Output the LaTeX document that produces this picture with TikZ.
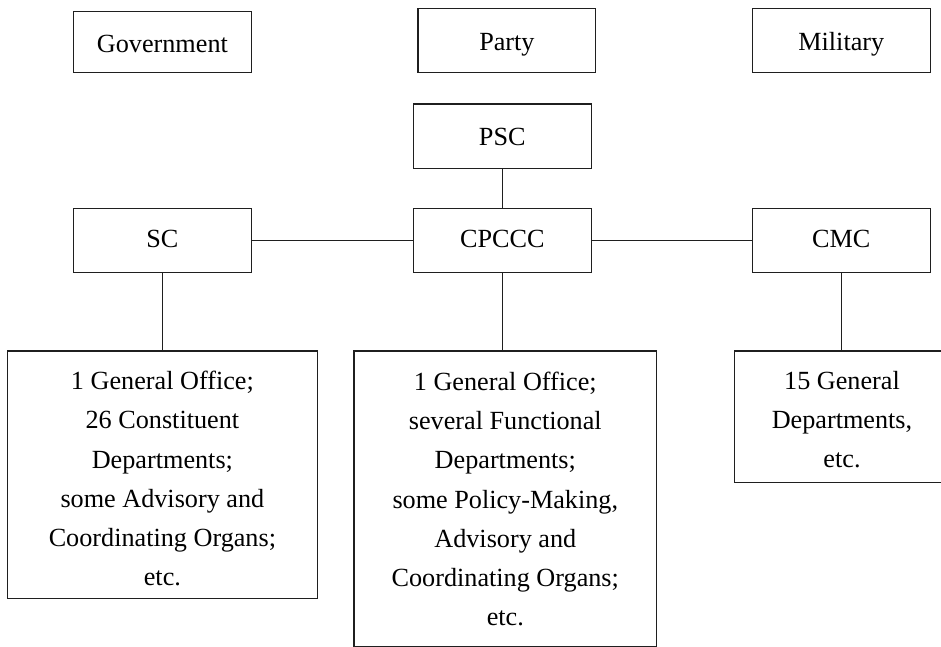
\documentclass[tikz,border=0pt]{standalone}
\usepackage{fontspec}
\setmainfont{Liberation Serif}
\begin{document}
\begin{tikzpicture}[x=1pt,y=-1pt,
  box/.style={draw=black!88,line width=1.4pt,inner sep=0pt,align=center,
    font=\fontsize{26.2}{39.2}\selectfont},
  head/.style={box,text height=26pt,text depth=#1},
  link/.style={draw=black!88,line width=1.4pt}]
\fill[white] (0,0) rectangle (941,646);
\useasboundingbox (0,0) rectangle (941,646);
% header boxes
\node[head=5.4pt,minimum width=178pt,minimum height=61.4pt] (gov) at (162.4,42) {Government};
\node[head=7pt,minimum width=177.7pt,minimum height=64.4pt] (party) at (506.9,40.5) {Party};
\node[head=7pt,minimum width=178pt,minimum height=64.4pt] (mil) at (841.3,40.5) {Military};
% organs
\node[head=7.2pt,minimum width=178pt,minimum height=64.7pt] (psc) at (502.3,136.3) {PSC};
\node[head=12.4pt,minimum width=178pt,minimum height=64.4pt] (sc) at (162.4,240.5) {SC};
\node[head=12.4pt,minimum width=178pt,minimum height=64.4pt] (cpccc) at (502.3,240.5) {CPCCC};
\node[head=12.4pt,minimum width=178pt,minimum height=64.4pt] (cmc) at (841.3,240.5) {CMC};
% detail boxes
\node[box,minimum width=310.4pt,minimum height=247.7pt] (scbox) at (162.4,474.9)
  {\rule{0pt}{26pt}1 General Office;\\26 Constituent\\Departments;\\some Advisory and\\Coordinating Organs;\\etc.};
\node[box,minimum width=302.7pt,minimum height=296pt] (cpbox) at (505.3,499)
  {1 General Office;\\several Functional\\Departments;\\some Policy-Making,\\Advisory and\\Coordinating Organs;\\etc.};
\node[box,minimum width=215.4pt,minimum height=131.3pt] (cmbox) at (842,416.7)
  {\rule{0pt}{24pt}15 General\\Departments,\\etc.};
% connectors
\draw[link] (psc) -- (cpccc);
\draw[link] (sc) -- (cpccc);
\draw[link] (cpccc) -- (cmc);
\draw[link] (sc.south) -- (sc.south |- scbox.north);
\draw[link] (cpccc.south) -- (cpccc.south |- cpbox.north);
\draw[link] (cmc.south) -- (cmc.south |- cmbox.north);
\end{tikzpicture}
\end{document}
